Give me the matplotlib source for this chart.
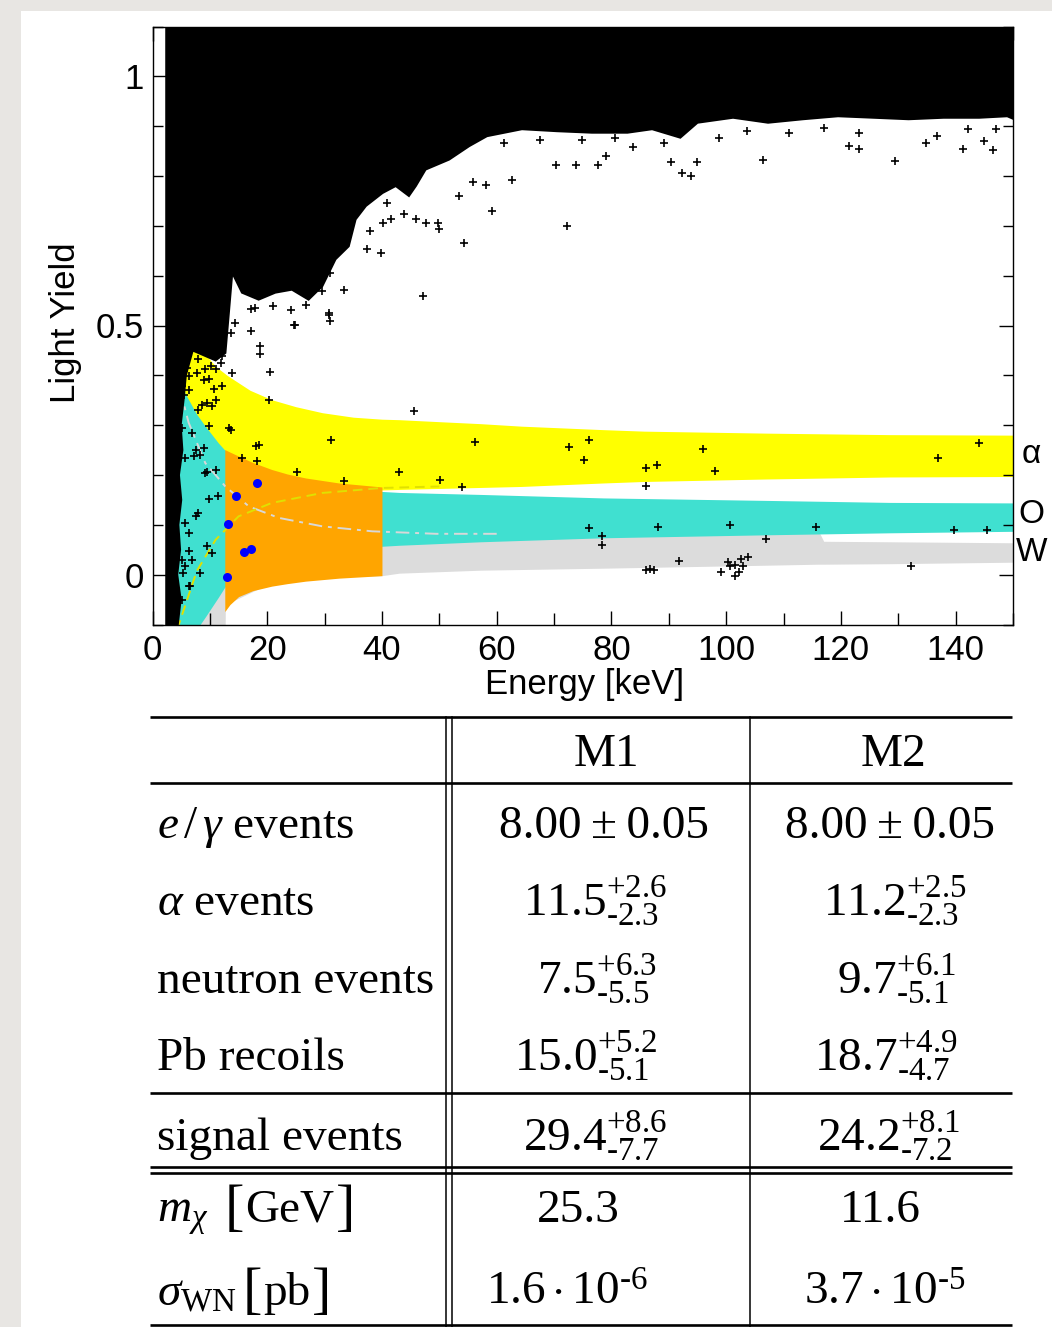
import matplotlib
matplotlib.use("Agg")
import matplotlib.pyplot as plt
from matplotlib.patches import Polygon, Rectangle

plt.rcParams["mathtext.fontset"] = "custom"
plt.rcParams["mathtext.rm"] = "Liberation Serif"
plt.rcParams["mathtext.it"] = "Liberation Serif:italic"
plt.rcParams["mathtext.bf"] = "Liberation Serif:bold"

# ---- bands (energy in keV, light yield) ----
alpha_e = [2.6, 2.8, 4.2, 5.4, 7.0, 9.0, 11.0, 13.0, 15.0, 17.0, 20.8, 25.0, 29.6, 35.0, 40.0,
           43.0, 50.0, 57.2, 64.3, 78.6, 85.7, 107.1, 128.5, 150.0]
alpha_hi = [0.78, 0.753, 0.606, 0.525, 0.48, 0.445, 0.418, 0.40, 0.385, 0.37, 0.351, 0.337, 0.325, 0.316, 0.312,
            0.311, 0.307, 0.303, 0.298, 0.291, 0.288, 0.284, 0.281, 0.280]
alpha_lo = [0.17, 0.17, 0.17, 0.17, 0.17, 0.17, 0.17, 0.17, 0.17, 0.17, 0.17, 0.17, 0.17, 0.17, 0.17,
            0.171, 0.173, 0.175, 0.177, 0.184, 0.187, 0.192, 0.196, 0.197]

oxygen_e = [2.6, 2.8, 4.0, 6.3, 7.7, 9.2, 11.5, 12.6, 15.0, 20.0, 30.0, 40.0, 43.0, 57.2, 78.6, 107.1, 128.5, 150.0]
oxygen_hi = [0.47, 0.452, 0.40, 0.351, 0.322, 0.298, 0.264, 0.25, 0.23, 0.205, 0.183, 0.167, 0.165, 0.161, 0.154,
             0.149, 0.145, 0.144]
oxygen_lo = [-0.2, -0.2, -0.2, -0.16, -0.11, -0.085, -0.045, -0.025, -0.01, 0.015, 0.04, 0.057, 0.059, 0.066, 0.074,
             0.080, 0.084, 0.087]

tungsten_e = [5.0, 12.6, 12.7, 20.0, 30.0, 40.0, 43.0, 57.2, 78.6, 107.1, 116.0, 117.0, 128.5, 150.0]
tungsten_hi = [0.0, 0.0, 0.03, 0.04, 0.06, 0.075, 0.076, 0.08, 0.085, 0.09, 0.09, 0.067, 0.066, 0.064]
tungsten_lo = [-0.2, -0.2, -0.06, -0.02, -0.005, -0.002, 0.003, 0.009, 0.013, 0.019, 0.021, 0.021, 0.022, 0.025]

accept_e = [12.6, 13.5, 15.0, 17.5, 20.8, 23.5, 26.7, 32.5, 40.0]
accept_hi = [0.251, 0.246, 0.238, 0.225, 0.211, 0.202, 0.194, 0.184, 0.176]
accept_lo = [-0.074, -0.06, -0.044, -0.032, -0.023, -0.018, -0.013, -0.007, -0.002]

# contour lines
grey_line_e = [3.4, 6.3, 9.2, 12.7, 16.8, 22.0, 29.6, 38.3, 49.4, 60.0]
grey_line_ly = [0.432, 0.305, 0.224, 0.177, 0.137, 0.114, 0.097, 0.087, 0.082, 0.082]
yellow_low_e = [4.3, 7.7, 11.0, 15.0, 20.8, 29.6, 40.0, 50.0]
yellow_low_ly = [-0.11, 0.007, 0.070, 0.117, 0.144, 0.164, 0.174, 0.177]
yellow_up_e = [2.6, 2.8, 4.2, 5.4]
yellow_up_ly = [0.80, 0.753, 0.606, 0.525]

# outline of the saturated e/gamma event cloud
cloud_e = [2.4, 2.4, 150.0, 150.0, 149.0, 144.1, 137.9, 131.8, 125.7, 119.5, 113.4, 107.3, 101.2, 95.0, 92.0,
           87.1, 82.8, 76.6, 70.5, 64.4, 58.3, 55.2, 51.7, 47.6, 45.9, 44.7, 42.4, 40.1, 37.2, 35.4, 34.2,
           31.9, 29.6, 27.2, 24.3, 21.4, 18.5, 15.6, 13.9, 13.3, 12.7, 11.0, 9.0, 7.0, 5.8, 5.4, 4.9, 5.2,
           4.6, 5.0, 4.5, 4.8, 4.3, 4.9, 4.4]
cloud_ly = [-0.1, 1.1, 1.1, 0.915, 0.92, 0.917, 0.917, 0.914, 0.917, 0.92, 0.914, 0.907, 0.917, 0.907, 0.877,
            0.894, 0.887, 0.887, 0.89, 0.894, 0.88, 0.86, 0.833, 0.813, 0.78, 0.76, 0.78, 0.766, 0.74, 0.713,
            0.659, 0.633, 0.579, 0.552, 0.572, 0.566, 0.552, 0.566, 0.606, 0.525, 0.445, 0.43, 0.44, 0.45,
            0.40, 0.35, 0.3, 0.25, 0.2, 0.15, 0.1, 0.05, 0.0, -0.05, -0.1]

# isolated events
event_e = [45.5, 56.2, 50.1, 54.0, 72.6, 76.1, 75.3, 86.1, 87.9, 86.1, 95.9, 98.0, 136.9, 144.1, 43.0,
           76.1, 78.4, 78.4, 88.2, 100.7, 115.7, 139.8, 145.5, 106.9, 91.7, 86.1, 86.8, 87.5, 132.2,
           99.1, 100.4, 101.6, 102.5, 103.8, 102.3, 101.6, 102.9, 100.7,
           20.3, 13.3, 18.0, 18.2, 15.6, 31.2, 25.2, 33.4, 18.8, 20.4, 30.7, 31.0, 24.6, 17.1, 11.5, 9.8,
           5.1, 6.9, 7.5, 5.7, 8.3, 11.0, 9.5, 7.5, 5.7, 6.3, 10.4, 5.7, 6.9, 5.4, 6.3, 5.1, 8.6, 9.5,
           10.4, 13.6, 18.5,
           6.3, 8.0, 9.8, 11.0, 8.9, 7.2, 12.1, 9.2, 8.0, 6.3, 9.5, 5.1, 6.6, 8.3,
           54.3, 47.2, 24.9, 30.8, 18.8, 37.4, 39.9, 41.6, 43.8, 38.0, 21.0, 24.2, 26.7, 17.1, 33.4,
           29.6, 33.7, 40.1, 40.9, 45.9, 47.6, 49.7, 50.0, 53.4, 31.0, 28.4, 21.7, 19.7, 17.9, 14.4,
           13.6, 12.1, 11.0, 13.9, 5.7, 6.9, 8.0, 9.2, 6.3, 5.1, 9.8, 8.4, 11.0, 7.5,
           59.2, 72.3, 106.4, 129.4, 93.9, 92.3, 95.0, 55.9, 58.1, 62.7, 70.4, 73.9, 77.7, 79.0, 83.7,
           90.3, 121.4, 123.2, 141.3, 146.6, 145.0,
           61.3, 67.5, 74.8, 80.6, 89.2, 98.7, 103.6, 111.0, 117.1, 123.2, 134.9, 136.7, 142.2, 147.1,
           6.0, 7.8, 10.2, 12.0, 5.5, 8.9, 10.8]
event_ly = [0.329, 0.266, 0.189, 0.175, 0.256, 0.270, 0.230, 0.214, 0.221, 0.177, 0.252, 0.209, 0.234, 0.264,
            0.207, 0.094, 0.077, 0.059, 0.095, 0.099, 0.096, 0.089, 0.089, 0.072, 0.027, 0.010, 0.011, 0.010,
            0.018, 0.005, 0.025, 0.020, 0.032, 0.035, 0.005, -0.003, 0.017, 0.017,
            0.351, 0.295, 0.258, 0.229, 0.234, 0.271, 0.207, 0.187, 0.458, 0.406, 0.522, 0.509, 0.502,
            0.489, 0.157, 0.151,
            0.295, 0.285, 0.251, 0.234, 0.241, 0.211, 0.207, 0.117, 0.104, 0.047, 0.044, 0.017, 0.030,
            0.003, -0.023, -0.050, 0.34, 0.345, 0.338, 0.291, 0.261,
            0.371, 0.331, 0.298, 0.351, 0.254, 0.238, 0.378, 0.204, 0.124, 0.084, 0.057, 0.030, -0.023,
            0.003,
            0.665, 0.559, 0.502, 0.525, 0.442, 0.654, 0.646, 0.713, 0.723, 0.689, 0.540, 0.532, 0.542,
            0.533, 0.572, 0.569, 0.686, 0.706, 0.746, 0.713, 0.706, 0.706, 0.693, 0.760, 0.606, 0.606,
            0.579, 0.572, 0.536, 0.505, 0.485, 0.438, 0.412, 0.405, 0.479, 0.452, 0.432, 0.412, 0.398,
            0.378, 0.392, 0.465, 0.452, 0.499,
            0.730, 0.699, 0.833, 0.831, 0.800, 0.806, 0.829, 0.788, 0.782, 0.792, 0.823, 0.823, 0.823,
            0.841, 0.858, 0.828, 0.860, 0.855, 0.855, 0.852, 0.870,
            0.867, 0.873, 0.873, 0.877, 0.867, 0.877, 0.890, 0.887, 0.897, 0.887, 0.867, 0.880, 0.894,
            0.894,
            0.415, 0.405, 0.418, 0.425, 0.36, 0.39, 0.372]

# candidate events in the acceptance region
cand_e = [18.2, 14.6, 13.1, 15.9, 17.2, 12.9]
cand_ly = [0.184, 0.157, 0.102, 0.045, 0.051, -0.005]

x_major = [0, 20, 40, 60, 80, 100, 120, 140]
x_minor = [10, 30, 50, 70, 90, 110, 130, 150]
y_major = [0.0, 0.5, 1.0]
y_labels = ["0", "0.5", "1"]
y_minor = [-0.1, 0.1, 0.2, 0.3, 0.4, 0.6, 0.7, 0.8, 0.9, 1.1]

band_names = ["\u03b1", "O", "W"]
band_label_ly = [0.241, 0.12, 0.044]

# ---- table ----
col_headers = ["M1", "M2"]
row_labels = [r"$e\,/\,\gamma$ events", r"$\alpha$ events", "neutron events", "Pb recoils",
              "signal events", r"$m_{\chi}$", r"$\sigma_{\mathrm{WN}}$"]
row_units = ["", "", "", "", "", "GeV", "pb"]
m1_values = ["8.00\u2009\u00b1\u20090.05", r"$11.5^{+2.6}_{\text{-2.3}}$", r"$7.5^{+6.3}_{\text{-5.5}}$",
             r"$15.0^{+5.2}_{\text{-5.1}}$", r"$29.4^{+8.6}_{\text{-7.7}}$", "25.3",
             r"$1.6\cdot10^{\text{-6}}$"]
m2_values = ["8.00\u2009\u00b1\u20090.05", r"$11.2^{+2.5}_{\text{-2.3}}$", r"$9.7^{+6.1}_{\text{-5.1}}$",
             r"$18.7^{+4.9}_{\text{-4.7}}$", r"$24.2^{+8.1}_{\text{-7.2}}$", "11.6",
             r"$3.7\cdot10^{\text{-5}}$"]

W, H = 1052, 1327
fig = plt.figure(figsize=(W / 100, H / 100), dpi=100, facecolor="#e8e6e3")

# page background + table (pixel coordinates)
bg = fig.add_axes([0, 0, 1, 1])
bg.set_xlim(0, W)
bg.set_ylim(H, 0)
bg.axis("off")
bg.add_patch(Rectangle((21, 11), W - 21, H - 11, facecolor="white", edgecolor="none"))

SERIF = "Liberation Serif"
row_base = [838, 915, 993, 1070, 1150, 1222, 1305]
m1_x = [604, 595, 597, 586, 595, 578, 567]
m2_x = [890, 895, 897, 886, 889, 880, 885]
unit_gap = [0, 0, 0, 0, 0, 16, 6]

for y in [717, 783, 1093, 1167, 1173, 1325]:
    bg.plot([150, 1012], [y, y], color="black", lw=1.9, solid_capstyle="butt")
for x in [446, 452, 750]:
    bg.plot([x, x], [717, H], color="black", lw=1.1)

renderer = fig.canvas.get_renderer()
bg.text(606, 766, col_headers[0], ha="center", va="baseline", fontsize=34, family=SERIF)
bg.text(893, 766, col_headers[1], ha="center", va="baseline", fontsize=34, family=SERIF)
for i, label in enumerate(row_labels):
    t = bg.text(157, row_base[i], label, ha="left", va="baseline", fontsize=34, family=SERIF)
    bg.text(m1_x[i], row_base[i], m1_values[i], ha="center", va="baseline", fontsize=34, family=SERIF)
    bg.text(m2_x[i], row_base[i], m2_values[i], ha="center", va="baseline", fontsize=34, family=SERIF)
    if row_units[i]:
        x0 = t.get_window_extent(renderer).x1 + unit_gap[i]
        lb = bg.text(x0, row_base[i] + 2, "[", ha="left", va="baseline", fontsize=42, family=SERIF)
        x1 = lb.get_window_extent(renderer).x1 + 1
        ut = bg.text(x1, row_base[i], row_units[i], ha="left", va="baseline", fontsize=34, family=SERIF)
        x2 = ut.get_window_extent(renderer).x1 + 2
        bg.text(x2, row_base[i] + 2, "]", ha="left", va="baseline", fontsize=42, family=SERIF)

# ---- scatter plot ----
ax = fig.add_axes([152.5 / W, (H - 624.5) / H, 860.5 / W, 598 / H])
ax.set_xlim(0, 150)
ax.set_ylim(-0.1, 1.1)

ax.fill_between(alpha_e, alpha_lo, alpha_hi, color="#ffff00", lw=0, zorder=1)
ax.fill_between(tungsten_e, tungsten_lo, tungsten_hi, color="#dcdcdc", lw=0, zorder=2)
ax.fill_between(oxygen_e, oxygen_lo, oxygen_hi, color="#40e0d0", lw=0, zorder=3)
ax.fill_between(accept_e, accept_lo, accept_hi, color="#ffa500", lw=0, zorder=4)

ax.plot(grey_line_e, grey_line_ly, color="#d8d8d8", lw=1.4, dashes=(7, 3, 2, 3), zorder=5)
ax.plot(yellow_low_e, yellow_low_ly, color="#e0e000", lw=1.4, dashes=(5, 3), zorder=5)
ax.plot(yellow_up_e, yellow_up_ly, color="#d0d000", lw=1.4, dashes=(5, 3), zorder=5)

ax.add_patch(Polygon(list(zip(cloud_e, cloud_ly)), closed=True, facecolor="black", edgecolor="black",
                     lw=1.5, zorder=6))
ax.plot(event_e, event_ly, ls="none", marker="+", ms=5.5, mew=1.2, color="black", zorder=7)
ax.plot(cand_e, cand_ly, ls="none", marker="o", ms=6.5, color="#0000ff", mec="none", zorder=8)

ax.set_xticks(x_major)
ax.set_xticks(x_minor, minor=True)
ax.set_yticks(y_major)
ax.set_yticklabels(y_labels)
ax.set_yticks(y_minor, minor=True)
ax.tick_params(which="both", direction="in", top=True, right=True, width=1.0, colors="black")
ax.tick_params(which="major", length=10)
ax.tick_params(which="minor", length=7)
ax.tick_params(axis="x", which="minor", length=9)
ax.tick_params(axis="x", labelsize=25, pad=7)
ax.tick_params(axis="y", labelsize=25, pad=6)
for lab in ax.get_xticklabels() + ax.get_yticklabels():
    lab.set_family("Liberation Sans")
for sp in ax.spines.values():
    sp.set_linewidth(1.0)
    sp.set_zorder(10)
ax.xaxis.set_zorder(10)
ax.yaxis.set_zorder(10)

ax.text(0.5026, -0.0995, "Energy [keV]", transform=ax.transAxes, ha="center", va="center",
        fontsize=25, family="Liberation Sans")
ax.text(-0.1006, 0.504, "Light Yield", transform=ax.transAxes, ha="center", va="center",
        rotation=90, fontsize=25, family="Liberation Sans")
for name, ly in zip(band_names, band_label_ly):
    ax.text(153.2, ly, name, ha="center", va="center", fontsize=24, family="Liberation Sans")

fig.savefig("out.png", dpi=100, facecolor=fig.get_facecolor())
